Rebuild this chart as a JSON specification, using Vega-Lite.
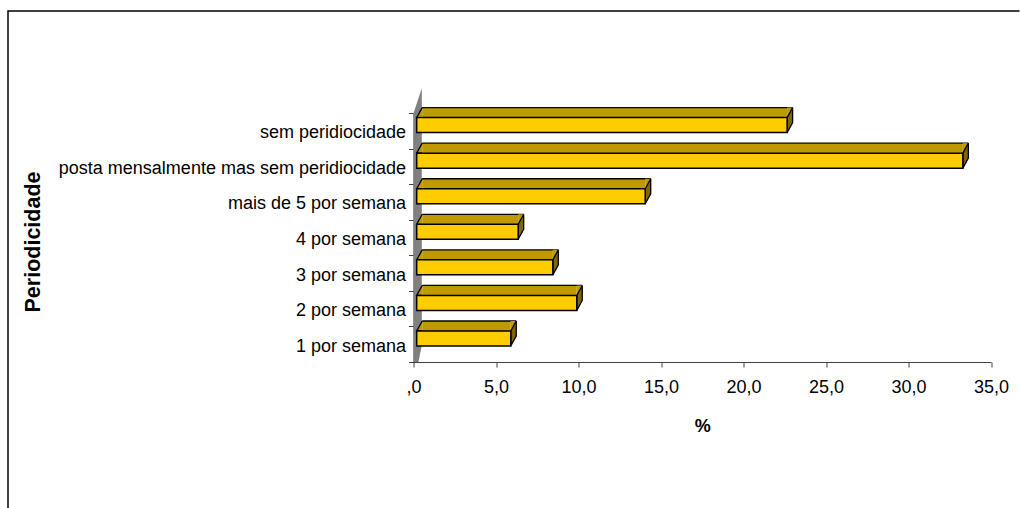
{"$schema":"https://vega.github.io/schema/vega-lite/v6.json","width":577.5,"height":249,"autosize":"none","padding":{"left":413.5,"top":113,"right":29,"bottom":146},"background":"white","config":{"view":{"stroke":null},"font":"Liberation Sans"},"data":{"values":[{"cat":"sem peridiocidade","value":22.45},{"cat":"posta mensalmente mas sem peridiocidade","value":33.1},{"cat":"mais de 5 por semana","value":13.85},{"cat":"4 por semana","value":6.15},{"cat":"3 por semana","value":8.25},{"cat":"2 por semana","value":9.7},{"cat":"1 por semana","value":5.7}]},"encoding":{"y":{"field":"cat","type":"nominal","sort":null,"scale":{"type":"band","paddingInner":0,"paddingOuter":0,"domain":["sem peridiocidade","posta mensalmente mas sem peridiocidade","mais de 5 por semana","4 por semana","3 por semana","2 por semana","1 por semana"]},"axis":{"title":"Periodicidade","titleFontSize":21.5,"titleFontWeight":"bold","titleColor":"black","titleX":-369,"titleY":128.5,"labelFontSize":18,"labelColor":"black","labelPadding":3,"labelOffset":2,"tickBand":"extent","tickSize":5,"tickColor":"#404040","domainColor":"#404040","domainWidth":1,"grid":false,"labelLimit":400}},"x":{"field":"value","type":"quantitative","stack":null,"scale":{"domain":[0,35],"nice":false},"axis":{"title":"%","titleFontSize":18,"titleFontWeight":"bold","titleColor":"black","titleY":55,"values":[0,5,10,15,20,25,30,35],"labelExpr":"datum.value==0?',0':replace(format(datum.value,'.1f'),'.',',')","labelFontSize":18,"labelColor":"black","labelPadding":11,"tickSize":5,"tickColor":"#404040","domainColor":"#404040","grid":false,"labelFlush":false}}},"layer":[{"transform":[{"filter":"datum.cat=='1 por semana'"}],"mark":{"type":"point","filled":true,"opacity":1,"size":4,"fill":"#808080","stroke":null,"shape":"M0,17.8 L0,-231 L8.3,-256 L8.3,1 L5,17.8 Z"},"encoding":{"x":{"datum":0}}},{"transform":[{"filter":"datum.cat=='1 por semana'"}],"mark":{"type":"point","filled":false,"opacity":1,"size":4,"stroke":"black","strokeWidth":1.5,"shape":"M-405.5,163.8 L-405.5,-333.2 L606,-333.2"},"encoding":{"x":{"datum":0}}},{"mark":{"type":"bar","size":10,"fill":"#BF9900","stroke":null,"yOffset":-18.2,"xOffset":3.2,"x2Offset":8.7},"encoding":{"x2":{"datum":0}}},{"mark":{"type":"point","filled":true,"opacity":1,"size":4,"fill":"#BF9900","stroke":"black","strokeWidth":1.3,"shape":"M8.7,-13.2 L3.2,-13.2 L8.7,-23.2"},"encoding":{"x":{"datum":0}}},{"mark":{"type":"rule","stroke":"black","strokeWidth":1.3,"yOffset":-23.2,"xOffset":8.7,"x2Offset":8.7},"encoding":{"x2":{"datum":0}}},{"mark":{"type":"point","filled":true,"opacity":1,"size":4,"fill":"#BF9900","stroke":null,"shape":"M3.2,-13.2 L8.7,-23.2 L3.2,-23.2 Z"}},{"mark":{"type":"point","filled":true,"opacity":1,"size":4,"fill":"#806600","stroke":"black","strokeWidth":1.3,"shape":"M3.2,-13.2 L8.7,-23.2 L8.7,-8.2 L3.2,1.8 Z"}},{"mark":{"type":"bar","size":15,"fill":"#FFCC00","stroke":"black","strokeWidth":1.5,"yOffset":-5.7,"xOffset":3.2,"x2Offset":3.2},"encoding":{"x2":{"datum":0}}}]}
